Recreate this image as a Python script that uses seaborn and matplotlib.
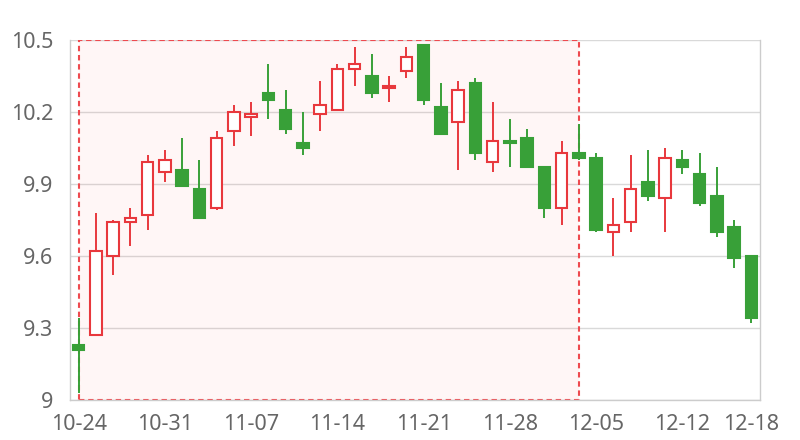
import matplotlib
matplotlib.use("Agg")
import matplotlib.pyplot as plt
from matplotlib.patches import Rectangle
import seaborn as sns
import pandas as pd

# Trading days (2023-10-24 .. 2023-12-18)
dates = pd.bdate_range("2023-10-24", "2023-12-18").strftime("%m-%d").tolist()

opens  = [9.23, 9.27, 9.60, 9.74, 9.77, 9.95, 9.96, 9.88, 9.80, 10.12,
          10.18, 10.28, 10.21, 10.07, 10.19, 10.21, 10.38, 10.35, 10.30, 10.37,
          10.48, 10.22, 10.16, 10.32, 9.99, 10.08, 10.09, 9.97, 9.80, 10.03,
          10.01, 9.70, 9.74, 9.91, 9.84, 10.00, 9.94, 9.85, 9.72, 9.60]
closes = [9.21, 9.62, 9.74, 9.76, 9.99, 10.00, 9.89, 9.76, 10.09, 10.20,
          10.19, 10.25, 10.13, 10.05, 10.23, 10.38, 10.40, 10.28, 10.31, 10.43,
          10.25, 10.11, 10.29, 10.03, 10.08, 10.07, 9.97, 9.80, 10.03, 10.01,
          9.71, 9.73, 9.88, 9.85, 10.01, 9.97, 9.82, 9.70, 9.59, 9.34]
highs  = [9.34, 9.78, 9.75, 9.80, 10.02, 10.04, 10.09, 10.00, 10.12, 10.23,
          10.24, 10.40, 10.29, 10.20, 10.33, 10.40, 10.47, 10.44, 10.35, 10.47,
          10.48, 10.32, 10.33, 10.34, 10.24, 10.17, 10.13, 9.97, 10.08, 10.15,
          10.03, 9.84, 10.02, 10.04, 10.05, 10.04, 10.03, 9.97, 9.75, 9.60]
lows   = [9.03, 9.27, 9.52, 9.64, 9.71, 9.91, 9.89, 9.76, 9.79, 10.06,
          10.10, 10.17, 10.11, 10.02, 10.12, 10.21, 10.31, 10.26, 10.24, 10.34,
          10.23, 10.11, 9.96, 10.00, 9.95, 9.97, 9.97, 9.76, 9.73, 10.00,
          9.70, 9.60, 9.70, 9.83, 9.70, 9.94, 9.81, 9.68, 9.55, 9.32]

yticks = [9, 9.3, 9.6, 9.9, 10.2, 10.5]
ytick_labels = ["9", "9.3", "9.6", "9.9", "10.2", "10.5"]
xtick_idx = [0, 5, 10, 15, 20, 25, 30, 35, 39]
area_start, area_end = 0, 29

up_color = "#e8383d"
down_color = "#38a038"

sns.set_theme(style="white")
plt.rcParams["font.family"] = ["Noto Sans", "DejaVu Sans"]

fig = plt.figure(figsize=(8, 4.4), dpi=100)
ax = fig.add_axes([70 / 800, 40 / 440, 690 / 800, 360 / 440])

# highlighted range: translucent fill, dashed red border
ax.add_patch(Rectangle((area_start, 9), area_end - area_start, 1.5,
                       facecolor=(1, 0, 0, 0.035), edgecolor="none", zorder=1))
ax.add_patch(Rectangle((area_start, 9), area_end - area_start, 1.5,
                       facecolor="none", edgecolor="#ee4a4f", linestyle=(0, (2.6, 1.8)),
                       linewidth=1.5, zorder=1.5))

df = pd.DataFrame({"date": dates, "open": opens, "close": closes,
                   "high": highs, "low": lows})
body_w = 0.66
for i, r in df.iterrows():
    up = r["close"] >= r["open"]
    c = up_color if up else down_color
    ax.vlines(i, r["low"], r["high"], color=c, linewidth=1.4, zorder=2)
    lo, hi = min(r["open"], r["close"]), max(r["open"], r["close"])
    ax.add_patch(Rectangle((i - body_w / 2, lo), body_w, max(hi - lo, 0.004),
                           facecolor="white" if up else c, edgecolor=c,
                           linewidth=1.5, zorder=3))

ax.set_xlim(-0.5, len(dates) - 0.5)
ax.set_ylim(9, 10.5)
ax.set_yticks(yticks)
ax.set_yticklabels(ytick_labels)
ax.set_xticks(xtick_idx)
ax.set_xticklabels([dates[i] for i in xtick_idx])
ax.yaxis.grid(True, color="#d9d9d9", linewidth=1)
ax.set_axisbelow(True)
ax.tick_params(axis="both", length=0, labelsize=15.5, colors="#666666")
ax.tick_params(axis="y", pad=12)
ax.tick_params(axis="x", pad=10)
for s in ["left", "right", "bottom"]:
    ax.spines[s].set_color("#cccccc")
    ax.spines[s].set_linewidth(1)
ax.spines["top"].set_visible(False)

fig.savefig("out.png", dpi=100)
